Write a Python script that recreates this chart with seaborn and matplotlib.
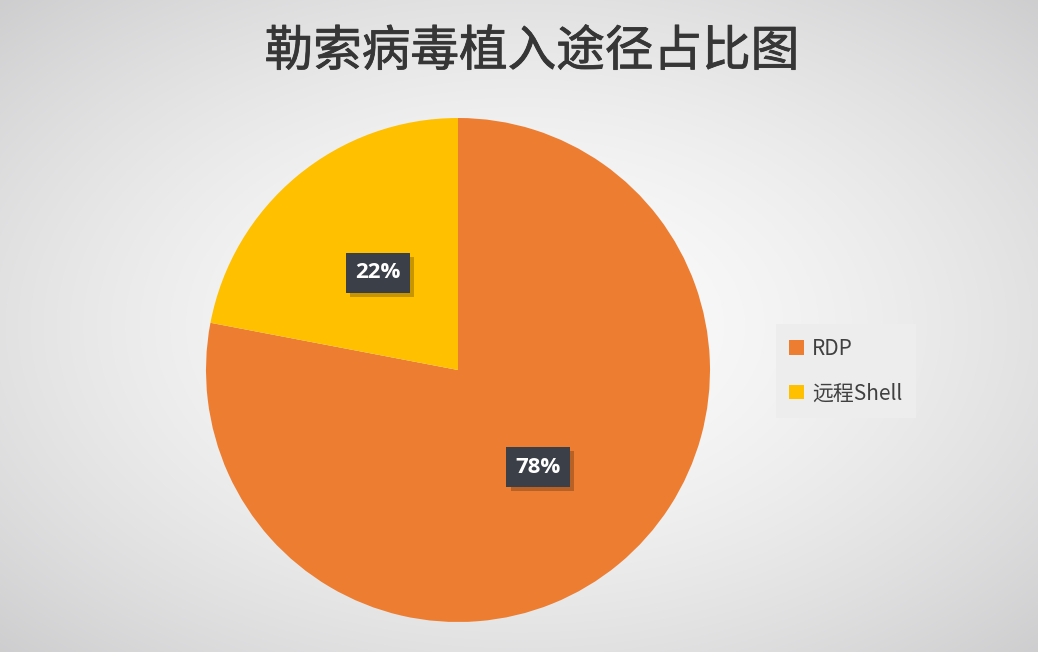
import numpy as np
import matplotlib
matplotlib.use("Agg")
import matplotlib.pyplot as plt
import matplotlib.patheffects as pe
import seaborn as sns
from matplotlib.patches import Patch

# ---- data ----
categories = ["RDP", "远程Shell"]
values = [78, 22]
colors = ["#ED7D31", "#FFC000"]
title = "勒索病毒植入途径占比图"

sns.set_theme(style="white")
plt.rcParams['font.family'] = ['Noto Sans CJK SC', 'DejaVu Sans']

W, H = 1038, 652
fig = plt.figure(figsize=(W / 100, H / 100), dpi=100)

# radial gradient background
bg = fig.add_axes([0, 0, 1, 1], zorder=0)
yy, xx = np.mgrid[0:1:H * 1j, 0:1:W * 1j]
r = np.sqrt(((xx - 0.5) / 0.5) ** 2 + ((yy - 0.5) / 0.5) ** 2) / np.sqrt(2)
v = 252 - 46 * r ** 1.6
img = np.dstack([v, v, v + 1.5 * r]) / 255.0
bg.imshow(np.clip(img, 0, 1), aspect="auto", extent=[0, 1, 0, 1], origin="upper")
bg.axis("off")

# pie axes
cx, cy, R = 458, 370, 252
ax = fig.add_axes([(cx - R) / W, (H - cy - R) / H, 2 * R / W, 2 * R / H], zorder=1)
ax.patch.set_alpha(0)
wedges, _ = ax.pie(values, colors=colors, startangle=90, counterclock=False,
                   radius=1.0, wedgeprops=dict(linewidth=0))
ax.set_xlim(-1, 1)
ax.set_ylim(-1, 1)
ax.set_aspect("equal")
ax.axis("off")

# labels
for w, val in zip(wedges, values):
    ang = np.deg2rad((w.theta1 + w.theta2) / 2)
    x, y = 0.5 * np.cos(ang), 0.5 * np.sin(ang)
    t = ax.text(x, y, f"{val}%", ha="center", va="center", fontsize=16,
                fontweight="bold", family=["Open Sans", "DejaVu Sans"], color="white",
                bbox=dict(boxstyle="square,pad=0.42", fc="#3B4048", ec="none"))
    t.get_bbox_patch().set_path_effects(
        [pe.withSimplePatchShadow(offset=(3, -3), shadow_rgbFace="black", alpha=0.22),
         pe.Normal()])

# title
fig.text(532 / W, 1 - 52 / H, title, ha="center", va="center", fontsize=35,
         color="#363636", fontweight="normal",
         path_effects=[pe.withStroke(linewidth=0.6, foreground="#363636")])

# legend
handles = [Patch(facecolor=c, edgecolor="none") for c in colors]
leg = fig.legend(handles, categories, loc="center left",
                 bbox_to_anchor=(782 / W, 1 - 371 / H), frameon=True,
                 fontsize=15, handlelength=0.7, handleheight=0.7,
                 handletextpad=0.4, labelspacing=1.1, borderpad=0.35,
                 borderaxespad=0,
                 facecolor="#EDEDED", edgecolor="none", framealpha=1.0)
leg.get_frame().set_boxstyle("square")
for t in leg.get_texts():
    t.set_color("#404040")

fig.savefig("out.png", dpi=100)
